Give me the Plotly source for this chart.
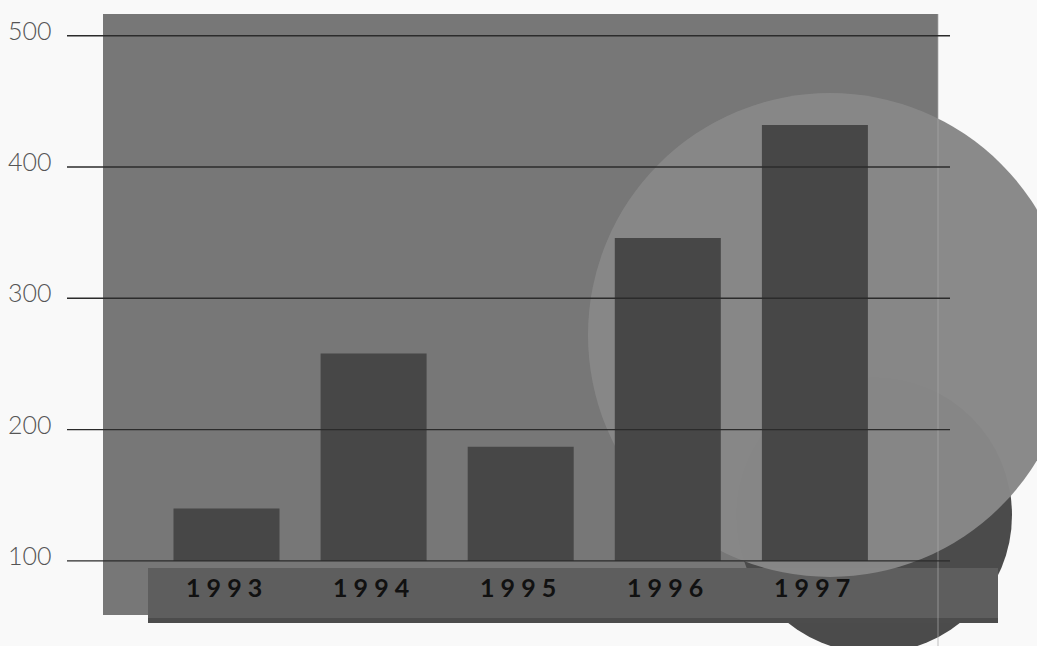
import numpy as np
import plotly.graph_objects as go

# ---- data ----
years = ["1993", "1994", "1995", "1996", "1997"]
values = [140, 258, 187, 346, 432]
base_value = 100
tick_values = [100, 200, 300, 400, 500]
tick_labels = ["100", "200", "300", "400", "500"]

W, H = 1037, 646


def px(x):
    return x / W


def py(y):
    return 1 - y / H


fig = go.Figure()

fig.add_trace(go.Bar(
    x=years,
    y=[v - base_value for v in values],
    base=base_value,
    marker=dict(color="#474747", line=dict(width=0)),
    hoverinfo="x+y",
))

shapes = []
# background panel
shapes.append(dict(type="rect", xref="paper", yref="paper", layer="below",
                   x0=px(103), x1=px(938), y0=py(615), y1=py(14),
                   fillcolor="#777777", line=dict(width=0)))
# dark circle
shapes.append(dict(type="circle", xref="paper", yref="paper", layer="below",
                   x0=px(874 - 138), x1=px(874 + 138), y0=py(515 + 138), y1=py(515 - 138),
                   fillcolor="#4b4b4b", line=dict(width=0)))
# label band
shapes.append(dict(type="rect", xref="paper", yref="paper", layer="below",
                   x0=px(148), x1=px(998), y0=py(623), y1=py(568),
                   fillcolor="#5e5e5e", line=dict(width=0)))
shapes.append(dict(type="rect", xref="paper", yref="paper", layer="below",
                   x0=px(148), x1=px(998), y0=py(623), y1=py(618),
                   fillcolor="#4c4c4c", line=dict(width=0)))
# big light circle
shapes.append(dict(type="circle", xref="paper", yref="paper", layer="below",
                   x0=px(830 - 242), x1=px(830 + 242), y0=py(335 + 242), y1=py(335 - 242),
                   fillcolor="#888888", opacity=0.98, line=dict(width=0)))
# faint panel edge line
shapes.append(dict(type="line", xref="paper", yref="paper", layer="below",
                   x0=px(938), x1=px(938), y0=py(14), y1=py(646),
                   line=dict(color="#a8a8a8", width=1.2), opacity=0.6))
# gridlines
for v in tick_values:
    shapes.append(dict(type="line", xref="paper", yref="y", layer="above",
                       x0=px(67), x1=px(950), y0=v, y1=v,
                       line=dict(color="#2b2b2b", width=1.4)))

annotations = []
for v, t in zip(tick_values, tick_labels):
    annotations.append(dict(xref="paper", yref="y", x=px(54), y=v, yshift=6,
                            text=t, showarrow=False, xanchor="right", yanchor="middle",
                            font=dict(family="Lato", size=25, color="#555555", weight=300)))
for i, yr in enumerate(years):
    annotations.append(dict(xref="x", yref="paper", x=i, y=py(587), xshift=-3,
                            text=" ".join(yr), showarrow=False, xanchor="center",
                            yanchor="middle",
                            font=dict(family="Lato", size=25, color="#111111", weight="bold")))

# axis ranges chosen so the value grid lands where the original places it
y_per_px = 100 / 131.3
y_top = 500 + 35.7 * y_per_px
y_bottom = 500 - (H - 35.7) * y_per_px
c0, step = 226.5, 147.1
x_left = -c0 / step
x_right = (W - c0) / step

fig.update_layout(
    width=W, height=H,
    margin=dict(l=0, r=0, t=0, b=0),
    paper_bgcolor="#f9f9f9",
    plot_bgcolor="rgba(0,0,0,0)",
    showlegend=False,
    bargap=1 - 106 / step,
    xaxis=dict(type="category", range=[x_left, x_right], visible=False, fixedrange=True),
    yaxis=dict(range=[y_bottom, y_top], visible=False, fixedrange=True),
    shapes=shapes,
    annotations=annotations,
)

fig.write_html("out.html")
